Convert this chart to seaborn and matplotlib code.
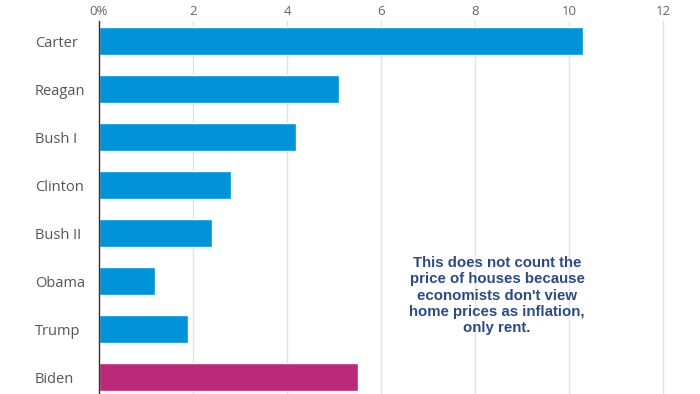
import matplotlib
matplotlib.use("Agg")
import matplotlib.pyplot as plt
import seaborn as sns
import pandas as pd

presidents = ["Carter", "Reagan", "Bush I", "Clinton", "Bush II", "Obama", "Trump", "Biden"]
inflation = [10.3, 5.1, 4.2, 2.8, 2.4, 1.2, 1.9, 5.5]
highlight = ["other", "other", "other", "other", "other", "other", "other", "biden"]
tick_vals = [0, 2, 4, 6, 8, 10, 12]
tick_labels = ["0%", "2", "4", "6", "8", "10", "12"]
note = ("This does not count the\nprice of houses because\neconomists don't view\n"
        "home prices as inflation,\nonly rent.")

df = pd.DataFrame({"president": presidents, "value": inflation, "group": highlight})

sns.set_style("white")
plt.rcParams["font.family"] = ["Open Sans", "DejaVu Sans"]

fig = plt.figure(figsize=(7, 3.94), dpi=100)
ax = fig.add_axes([99 / 700, 0, 1 - 99 / 700, 1 - 21 / 394])

sns.barplot(data=df, y="president", x="value", hue="group", orient="h",
            palette={"other": "#0093d7", "biden": "#bb2a78"}, dodge=False,
            width=0.58, legend=False, ax=ax, saturation=1)

ax.set_xlim(0, (700 - 99) / 47)
ax.set_ylim(7.35, -0.42)
ax.xaxis.tick_top()
ax.set_xticks(tick_vals)
ax.set_xticklabels(tick_labels, color="#666666", fontsize=9.5)
ax.tick_params(axis="x", length=0, pad=2)
ax.grid(axis="x", color="#e3e3e3", linewidth=1)
ax.set_axisbelow(True)
ax.set_xlabel("")
ax.set_ylabel("")

for side in ["top", "right", "bottom"]:
    ax.spines[side].set_visible(False)
ax.spines["left"].set_color("#333333")
ax.spines["left"].set_linewidth(1)

ax.tick_params(axis="y", length=0, pad=46)
for lbl in ax.get_yticklabels():
    lbl.set_ha("left")
    lbl.set_color("#555555")
    lbl.set_fontsize(10.5)

ax.text(8.47, 5.3, note, ha="center", va="center", fontsize=10.8,
        fontweight="bold", color="#2c4a80", family=["Liberation Sans", "DejaVu Sans"],
        linespacing=1.2)

fig.savefig("out.png", dpi=100)
